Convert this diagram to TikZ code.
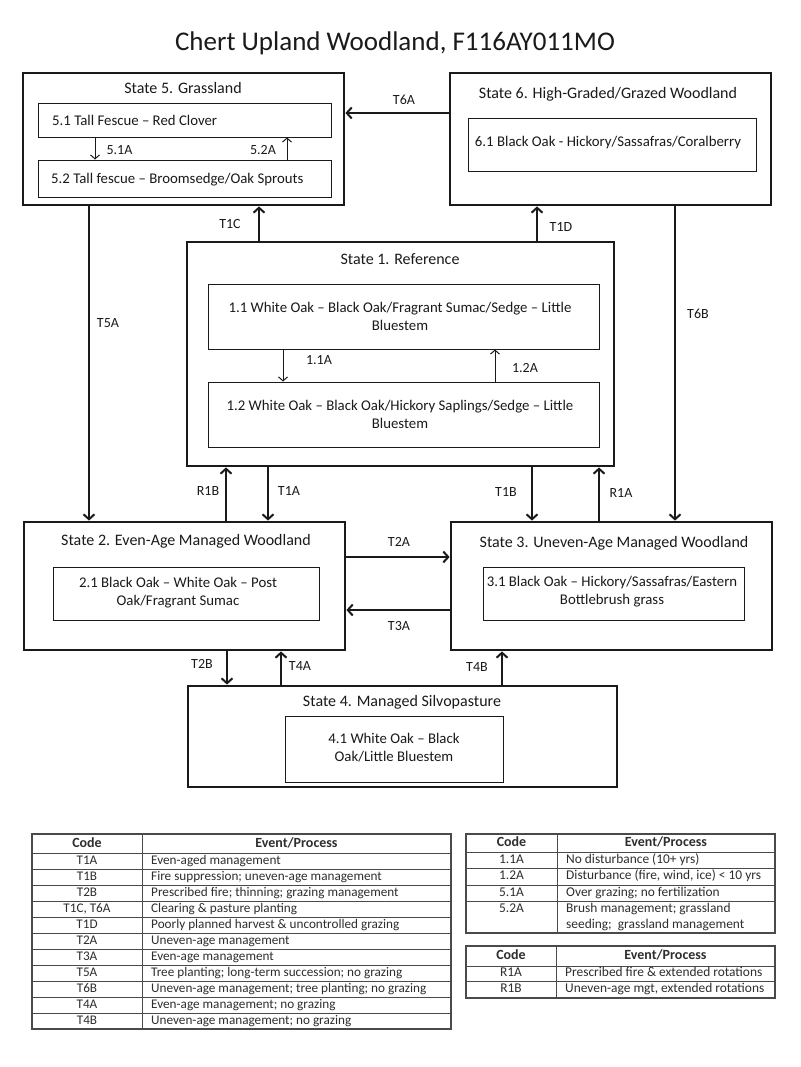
\documentclass[tikz,border=0pt]{standalone}
\usepackage{fontspec}
\setmainfont{Carlito}
\usetikzlibrary{arrows.meta}
\definecolor{ink}{HTML}{1A1A1A}
\definecolor{tabline}{HTML}{4A4A4A}
\definecolor{tabtext}{HTML}{2E2E2E}
\tikzset{
  stbox/.style={draw=ink, line width=2.8pt, inner sep=0pt},
  inbox/.style={draw=ink, line width=0.9pt, inner sep=0pt},
  sttitle/.style={font=\fontsize{16}{19}\selectfont, text=ink, inner sep=0pt, text height=11pt, text depth=3.5pt, yshift=-1.5pt},
  boxtext/.style={font=\fontsize{14.8}{18}\selectfont, text=ink, align=center, inner sep=0pt},
  lab/.style={font=\fontsize{14}{16}\selectfont, text=ink, inner sep=0pt, text height=10pt, text depth=3pt, yshift=-1pt},
  conn/.style={draw=ink, line width=2pt, -{Straight Barb[length=5pt,width=11pt,line width=2pt]}},
  thinarr/.style={draw=ink, line width=1pt, -{Straight Barb[length=4pt,width=9pt,line width=1pt]}},
  tline/.style={draw=tabline, line width=0.8pt},
  tborder/.style={draw=tabline, line width=1.2pt},
  thead/.style={font=\fontsize{14}{16}\selectfont\bfseries, text=tabtext, inner sep=0pt, text height=9.5pt, text depth=2.5pt},
  tcell/.style={font=\fontsize{13.2}{16}\selectfont, text=tabtext, inner sep=0pt, text height=9pt, text depth=2.5pt},
  tcellb/.style={font=\fontsize{13.4}{16}\selectfont, text=tabtext, inner sep=0pt, text height=9pt, text depth=2.5pt},
}
\begin{document}
\begin{tikzpicture}[x=1pt,y=-1pt]
\useasboundingbox (0,0) rectangle (800,1067);
\fill[white] (0,0) rectangle (800,1067);

% title
\node[font=\fontsize{27}{31}\selectfont, text=ink, inner sep=0pt] (title) at (395,43) {Chert Upland Woodland, F116AY011MO};

% state boxes
\node[stbox, minimum width=321pt, minimum height=132pt] (s5) at (183.5,139) {};
\node[stbox, minimum width=321pt, minimum height=132pt] (s6) at (610.5,139) {};
\node[stbox, minimum width=427pt, minimum height=224pt] (s1) at (400.5,354) {};
\node[stbox, minimum width=321pt, minimum height=128pt] (s2) at (184.5,586) {};
\node[stbox, minimum width=321pt, minimum height=128pt] (s3) at (611.5,586) {};
\node[stbox, minimum width=429pt, minimum height=101pt] (s4) at (402.5,736.5) {};

% state titles
\node[sttitle] (s5t) at (183,88) {State 5. Grassland};
\node[sttitle] (s6t) at (608,93) {State 6. High-Graded/Grazed Woodland};
\node[sttitle] (s1t) at (400,259) {State 1. Reference};
\node[sttitle] (s2t) at (186,540) {State 2. Even-Age Managed Woodland};
\node[sttitle] (s3t) at (614,542) {State 3. Uneven-Age Managed Woodland};
\node[sttitle] (s4t) at (402,701) {State 4. Managed Silvopasture};

% community boxes
\node[inbox, minimum width=293pt, minimum height=34pt] (b51) at (184.5,120) {};
\node[inbox, minimum width=293pt, minimum height=37pt] (b52) at (184.5,178.5) {};
\node[inbox, minimum width=288pt, minimum height=53pt] (b61) at (612,144.5) {};
\node[inbox, minimum width=391pt, minimum height=65pt] (b11) at (403.5,316.5) {};
\node[inbox, minimum width=391pt, minimum height=65pt] (b12) at (403.5,414.5) {};
\node[inbox, minimum width=266pt, minimum height=53pt] (b21) at (186,593.5) {};
\node[inbox, minimum width=261pt, minimum height=53pt] (b31) at (613.5,593.5) {};
\node[inbox, minimum width=218pt, minimum height=66pt] (b41) at (394,749) {};

% community texts
\node[boxtext, anchor=west] (t51) at (52,120) {5.1 Tall Fescue – Red Clover};
\node[boxtext, anchor=west] (t52) at (51,180) {5.2 Tall fescue – Broomsedge/Oak Sprouts};
\node[boxtext] (t61) at (608,143) {6.1 Black Oak - Hickory/Sassafras/Coralberry};
\node[boxtext] (t11) at (400,316) {1.1 White Oak – Black Oak/Fragrant Sumac/Sedge – Little\\Bluestem};
\node[boxtext] (t12) at (400,414) {1.2 White Oak – Black Oak/Hickory Saplings/Sedge – Little\\Bluestem};
\node[boxtext] (t21) at (178,593) {2.1 Black Oak – White Oak – Post\\Oak/Fragrant Sumac};
\node[boxtext] (t31) at (612,592) {3.1 Black Oak – Hickory/Sassafras/Eastern\\Bottlebrush grass};
\node[boxtext] (t41) at (394,748) {4.1 White Oak – Black\\Oak/Little Bluestem};

% inner transitions
\draw[thinarr] (b51.south -| 95,0) -- (b52.north -| 95,0);
\draw[thinarr] (b52.north -| 287,0) -- (b51.south -| 287,0);
\draw[thinarr] (b11.south -| 283,0) -- (b12.north -| 283,0);
\draw[thinarr] (b12.north -| 495,0) -- (b11.south -| 495,0);
\node[lab] (l51a) at (119.5,150) {5.1A};
\node[lab] (l52a) at (263,150) {5.2A};
\node[lab] (l11a) at (319,360) {1.1A};
\node[lab] (l12a) at (525,368) {1.2A};

% state transitions
\draw[conn] (s6.west |- 0,113) -- (s5.east |- 0,113);
\draw[conn] (s1.north -| 259,0) -- (s5.south -| 259,0);
\draw[conn] (s1.north -| 537,0) -- (s6.south -| 537,0);
\draw[conn] (s5.south -| 89,0) -- (s2.north -| 89,0);
\draw[conn] (s6.south -| 675,0) -- (s3.north -| 675,0);
\draw[conn] (s2.north -| 226,0) -- (s1.south -| 226,0);
\draw[conn] (s1.south -| 268,0) -- (s2.north -| 268,0);
\draw[conn] (s1.south -| 532,0) -- (s3.north -| 532,0);
\draw[conn] (s3.north -| 599,0) -- (s1.south -| 599,0);
\draw[conn] (s2.east |- 0,557) -- (s3.west |- 0,557);
\draw[conn] (s3.west |- 0,610) -- (s2.east |- 0,610);
\draw[conn] (s2.south -| 227,0) -- (s4.north -| 227,0);
\draw[conn] (s4.north -| 281,0) -- (s2.south -| 281,0);
\draw[conn] (s4.north -| 502,0) -- (s3.south -| 502,0);

\node[lab] (lt6a) at (404,100) {T6A};
\node[lab] (lt1c) at (230,224) {T1C};
\node[lab] (lt1d) at (561,227) {T1D};
\node[lab] (lt5a) at (108,323) {T5A};
\node[lab] (lt6b) at (698,314) {T6B};
\node[lab] (lr1b) at (208,491) {R1B};
\node[lab] (lt1a) at (289,491) {T1A};
\node[lab] (lt1b) at (506,492) {T1B};
\node[lab] (lr1a) at (621,493) {R1A};
\node[lab] (lt2a) at (399,542) {T2A};
\node[lab] (lt3a) at (399,626) {T3A};
\node[lab] (lt2b) at (202,664) {T2B};
\node[lab] (lt4a) at (300,666) {T4A};
\node[lab] (lt4b) at (477,667) {T4B};

% ---- table 1 ----
\draw[tline] (32,853) -- (451,853);
\foreach \k in {1,...,10} { \draw[tline] (32,853+16*\k) -- (451,853+16*\k); }
\draw[tline] (142,834) -- (142,1029);
\draw[tborder] (32,834) rectangle (451,1029);
\node[thead] (h1c) at (87,843.5) {Code};
\node[thead] (h1e) at (296.5,843.5) {Event/Process};
\foreach \c/\t [count=\i] in {
  T1A/Even-aged management,
  T1B/Fire suppression; uneven-age management,
  T2B/Prescribed fire; thinning; grazing management,
  {T1C, T6A}/Clearing \& pasture planting,
  T1D/Poorly planned harvest \& uncontrolled grazing,
  T2A/Uneven-age management,
  T3A/Even-age management,
  T5A/Tree planting; long-term succession; no grazing,
  T6B/Uneven-age management; tree planting; no grazing,
  T4A/Even-age management; no grazing,
  T4B/Uneven-age management; no grazing} {
  \node[tcell] (c1-\i) at (87,861+16*\i-16) {\c};
  \node[tcell, anchor=west] (e1-\i) at (151,861+16*\i-16) {\t};
}

% ---- table 2 ----
\draw[tline] (466,852) -- (775,852);
\draw[tline] (466,868) -- (775,868);
\draw[tline] (466,885) -- (775,885);
\draw[tline] (466,901) -- (775,901);
\draw[tline] (557,834) -- (557,933);
\draw[tborder] (466,834) rectangle (775,933);
\node[thead] (h2c) at (511.5,843) {Code};
\node[thead] (h2e) at (666,843) {Event/Process};
\node[tcellb] (c2-1) at (511.5,860) {1.1A};
\node[tcellb, anchor=west] (e2-1) at (566,860) {No disturbance (10+ yrs)};
\node[tcellb] (c2-2) at (511.5,876.5) {1.2A};
\node[tcellb, anchor=west] (e2-2) at (566,876.5) {Disturbance (fire, wind, ice) < 10 yrs};
\node[tcellb] (c2-3) at (511.5,893) {5.1A};
\node[tcellb, anchor=west] (e2-3) at (566,893) {Over grazing; no fertilization};
\node[tcellb] (c2-4) at (511.5,909.5) {5.2A};
\node[tcellb, anchor=west] (e2-4) at (566,909.5) {Brush management; grassland};
\node[tcellb, anchor=west] (e2-5) at (566,925.5) {seeding;\ \ grassland management};

% ---- table 3 ----
\draw[tline] (466,966) -- (775,966);
\draw[tline] (466,981) -- (775,981);
\draw[tline] (556,946) -- (556,998);
\draw[tborder] (466,946) rectangle (775,998);
\node[thead] (h3c) at (511,956) {Code};
\node[thead] (h3e) at (665.5,956) {Event/Process};
\node[tcellb] (c3-1) at (511,973.5) {R1A};
\node[tcellb, anchor=west] (e3-1) at (565,973.5) {Prescribed fire \& extended rotations};
\node[tcellb] (c3-2) at (511,989.5) {R1B};
\node[tcellb, anchor=west] (e3-2) at (565,989.5) {Uneven-age mgt, extended rotations};
\end{tikzpicture}
\end{document}
